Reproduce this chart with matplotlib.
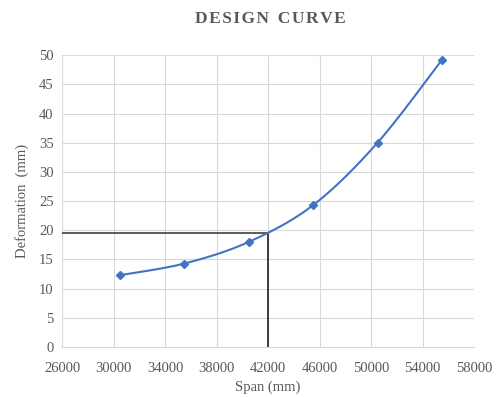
import numpy as np
import matplotlib.pyplot as plt

span = [30500, 35500, 40500, 45500, 50500, 55500]
deformation = [12.3, 14.3, 18.0, 24.3, 35.0, 49.2]
design_span = 42000
design_def = 19.5
x_ticks = [26000, 30000, 34000, 38000, 42000, 46000, 50000, 54000, 58000]
y_ticks = [0, 5, 10, 15, 20, 25, 30, 35, 40, 45, 50]

blue = '#4472C4'
grey = '#595959'


def smooth(xs, ys, n=30):
    # catmull-rom, like excel's smoothed line
    px = [xs[0]] + list(xs) + [xs[-1]]
    py = [ys[0]] + list(ys) + [ys[-1]]
    ox, oy = [], []
    t = np.linspace(0, 1, n)
    for i in range(1, len(px) - 2):
        for p, o in ((px, ox), (py, oy)):
            p0, p1, p2, p3 = p[i - 1], p[i], p[i + 1], p[i + 2]
            o.extend(0.5 * (2 * p1 + (-p0 + p2) * t
                            + (2 * p0 - 5 * p1 + 4 * p2 - p3) * t ** 2
                            + (-p0 + 3 * p1 - 3 * p2 + p3) * t ** 3))
    return ox, oy


plt.rcParams['font.family'] = 'Liberation Serif'

fig = plt.figure(figsize=(4.98, 3.97), dpi=100)
ax = fig.add_axes([0.1245, 0.126, 0.8275, 0.735])

sx, sy = smooth(span, deformation)
ax.plot(sx, sy, color=blue, lw=1.5, zorder=3)
ax.plot(span, deformation, ls='none', marker='D', ms=4.5, color=blue, zorder=4)

ax.plot([x_ticks[0], design_span], [design_def, design_def], color='#404040', lw=1.2, zorder=2)
ax.plot([design_span, design_span], [0, design_def], color='#202020', lw=1.2, zorder=2)

ax.set_xlim(x_ticks[0], x_ticks[-1])
ax.set_ylim(y_ticks[0], y_ticks[-1])
ax.set_xticks(x_ticks)
ax.set_yticks(y_ticks)
ax.grid(True, color='#d9d9d9', lw=0.8)
ax.set_axisbelow(True)
for s in ['top', 'right', 'left']:
    ax.spines[s].set_visible(False)
ax.spines['bottom'].set_color('#d9d9d9')
ax.tick_params(length=0, labelsize=10.5, colors=grey)
ax.tick_params(axis='x', pad=11)
ax.tick_params(axis='y', pad=6)

ax.set_xlabel('Span (mm)', fontsize=10.5, color=grey, labelpad=4)
ax.set_ylabel('Deformation  (mm)', fontsize=10.5, color=grey, labelpad=7)
fig.text(0.542, 0.952, '\u200a'.join('DESIGN') + '\u2002' + '\u200a'.join('CURVE'),
         ha='center', va='center', fontsize=12.5, fontweight='bold', color=grey)

fig.savefig('out.png', dpi=100)
